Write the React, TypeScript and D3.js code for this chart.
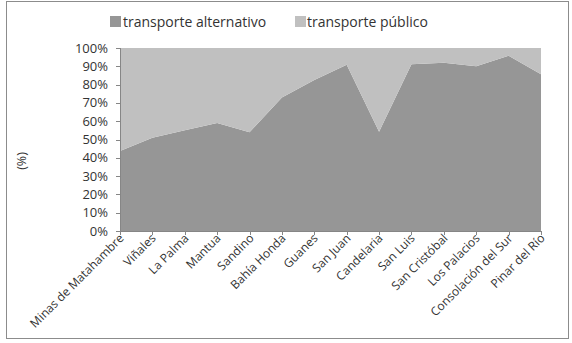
import React from "react";
import * as d3 from "d3";

const categories = [
  "Minas de Matahambre", "Viñales", "La Palma", "Mantua", "Sandino", "Bahía Honda",
  "Guanes", "San Juan", "Candelaria", "San Luis", "San Cristóbal", "Los Palacios",
  "Consolación del Sur", "Pinar del Río",
];
const alternativo = [43.7, 51, 55, 59, 54, 73, 82.5, 90.8, 54.3, 91.1, 92, 90, 95.8, 85.6];
const publico = alternativo.map((v) => 100 - v);
const yTicks = [0, 10, 20, 30, 40, 50, 60, 70, 80, 90, 100];
const seriesNames = ["transporte alternativo", "transporte público"];
const colors = ["#969696", "#c0c0c0"];

export default function App() {
  const W = 572, H = 343;
  const left = 120, right = 541, top = 48, bottom = 231;
  const x = d3.scalePoint<string>().domain(categories).range([left, right]);
  const y = d3.scaleLinear().domain([0, 100]).range([bottom, top]);
  const rows = categories.map((c, i) => ({ c, a: alternativo[i], p: publico[i] }));
  const stack = d3.stack<any>().keys(["a", "p"])(rows as any);
  const area = d3
    .area<any>()
    .x((d) => x(d.data.c) as number)
    .y0((d) => y(d[0]))
    .y1((d) => y(d[1]));
  const font = "'Open Sans', sans-serif";
  return (
    <svg width={W} height={H} style={{ position: "absolute", left: 0, top: 0, background: "#fff" }}>
      <rect x={6.5} y={1.5} width={562} height={337} fill="#fff" stroke="#8c8c8c" strokeWidth={1} />
      {stack.map((s, i) => (
        <path key={i} d={area(s as any) || ""} fill={colors[i]} />
      ))}
      {/* legend */}
      <rect x={110} y={16} width={11} height={11} fill={colors[0]} />
      <text x={123} y={26.5} fontFamily={font} fontSize={14} fill="#333">{seriesNames[0]}</text>
      <rect x={295} y={16} width={11} height={11} fill={colors[1]} />
      <text x={307} y={26.5} fontFamily={font} fontSize={14} fill="#333">{seriesNames[1]}</text>
      {/* y axis */}
      <line x1={left + 0.5} x2={left + 0.5} y1={top} y2={bottom} stroke="#868686" />
      {yTicks.map((t) => (
        <g key={t}>
          <line x1={left - 4} x2={left} y1={Math.round(y(t)) + 0.5} y2={Math.round(y(t)) + 0.5} stroke="#868686" />
          <text x={left - 12} y={y(t) + 4.5} textAnchor="end" fontFamily={font} fontSize={13} fill="#333">
            {t}%
          </text>
        </g>
      ))}
      <text transform={`translate(26,161) rotate(-90)`} textAnchor="middle" fontFamily={font} fontSize={12.5} fill="#333">
        (%)
      </text>
      {/* x axis */}
      <line x1={left} x2={right} y1={bottom + 0.5} y2={bottom + 0.5} stroke="#868686" />
      {categories.map((c) => {
        const px = Math.round(x(c) as number) + 0.5;
        return (
          <g key={c}>
            <line x1={px} x2={px} y1={bottom} y2={bottom + 4} stroke="#868686" />
            <text
              transform={`translate(${px + 4},${bottom + 8}) rotate(-45)`}
              textAnchor="end"
              fontFamily={font}
              fontSize={12}
              fill="#333"
            >
              {c}
            </text>
          </g>
        );
      })}
    </svg>
  );
}
